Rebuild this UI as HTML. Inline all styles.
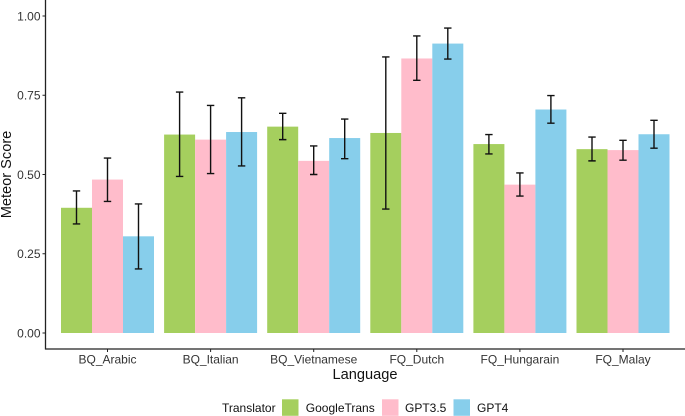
<!DOCTYPE html>
<html>
<head>
<meta charset="utf-8">
<style>
html,body{margin:0;padding:0;background:#fff;width:685px;height:416px;overflow:hidden}
svg{display:block}
text{font-family:"Liberation Sans",Arial,sans-serif}
</style>
</head>
<body>
<svg id="chart" xmlns="http://www.w3.org/2000/svg" width="685" height="416" viewBox="0 0 685 416"></svg>
<script>
const categories = ["BQ_Arabic","BQ_Italian","BQ_Vietnamese","FQ_Dutch","FQ_Hungarain","FQ_Malay"];
const seriesNames = ["GoogleTrans","GPT3.5","GPT4"];
const googleTrans = [0.395,0.626,0.651,0.631,0.596,0.580];
const googleTransLow = [0.344,0.494,0.610,0.391,0.565,0.543];
const googleTransHigh = [0.448,0.760,0.693,0.871,0.626,0.618];
const gpt35 = [0.484,0.610,0.543,0.866,0.468,0.577];
const gpt35Low = [0.415,0.503,0.500,0.797,0.432,0.545];
const gpt35High = [0.552,0.718,0.590,0.937,0.505,0.608];
const gpt4 = [0.305,0.634,0.615,0.913,0.705,0.627];
const gpt4Low = [0.202,0.527,0.550,0.864,0.662,0.583];
const gpt4High = [0.407,0.742,0.675,0.962,0.749,0.671];
const yTicks = [0,0.25,0.5,0.75,1];
const yTickLabels = ["0.00","0.25","0.50","0.75","1.00"];

const svg = document.getElementById('chart');
const NS = 'http://www.w3.org/2000/svg';
const colors = ['#a5cf5e','#ffbccb','#87ceeb'];
const seriesSlugs = ['googletrans','gpt35','gpt4'];
const values = [googleTrans,gpt35,gpt4];
const lows = [googleTransLow,gpt35Low,gpt4Low];
const highs = [googleTransHigh,gpt35High,gpt4High];

const yScale = v => 333 - 317 * v;
const xBand = i => 107.5 + 103.1 * i;
const barW = 31;
const barX = (i, s) => xBand(i) + (s - 1.5) * barW;

function mk(tag, attrs, text) {
  const el = document.createElementNS(NS, tag);
  for (const k in attrs) el.setAttribute(k, attrs[k]);
  if (text !== undefined) el.textContent = text;
  svg.appendChild(el);
  return el;
}

// bars
categories.forEach((c, i) => {
  values.forEach((vals, s) => {
    const el = mk('rect', {x: barX(i, s), y: yScale(vals[i]), width: barW, height: yScale(0) - yScale(vals[i]), fill: colors[s]});
    
    
  });
});

// error bars
categories.forEach((c, i) => {
  values.forEach((vals, s) => {
    const cx = barX(i, s) + barW / 2;
    const hi = yScale(highs[s][i]);
    const lo = yScale(lows[s][i]);
    const g = mk('path', {
      d: `M${cx - 3.7} ${hi}H${cx + 3.7}M${cx} ${hi}V${lo}M${cx - 3.7} ${lo}H${cx + 3.7}`,
      fill: 'none', stroke: '#111', 'stroke-width': 1.4
    });
    
    
  });
});

// y axis
yTicks.forEach((t, k) => {
  const y = yScale(t);
  const tick = mk('line', {x1: 42.5, x2: 45.5, y1: y, y2: y, stroke: '#222', 'stroke-width': 1});
  
  
  const lab = mk('text', {x: 40.5, y: y + 4.3, 'text-anchor': 'end', 'font-size': 12, fill: '#333'}, yTickLabels[k]);
  
  
});

// x axis
categories.forEach((c, i) => {
  const x = xBand(i);
  const tick = mk('line', {x1: x, x2: x, y1: 349, y2: 352, stroke: '#222', 'stroke-width': 1});
  
  
  const lab = mk('text', {x: x, y: 363.7, 'text-anchor': 'middle', 'font-size': 12, fill: '#333'}, c);
  
  
});

const yAxis = mk('line', {x1: 45.5, x2: 45.5, y1: 0, y2: 349.5, stroke: '#222', 'stroke-width': 1.3});


const xAxis = mk('line', {x1: 45, x2: 685, y1: 349, y2: 349, stroke: '#222', 'stroke-width': 1.3});



// axis titles
const xTitle = mk('text', {x: 365, y: 379, 'text-anchor': 'middle', 'font-size': 14.6, fill: '#111'}, 'Language');


const yTitle = mk('text', {x: 0, y: 0, transform: 'translate(10.8,174.5) rotate(-90)', 'text-anchor': 'middle', 'font-size': 14.6, fill: '#111'}, 'Meteor Score');



// legend
const legTitle = mk('text', {x: 222, y: 412, 'font-size': 12, fill: '#111'}, 'Translator');


const legendSwatchX = [282, 382, 453.5];
const legendLabelX = [305.8, 405, 477];
seriesNames.forEach((n, s) => {
  const sw = mk('rect', {x: legendSwatchX[s], y: 399.3, width: 16.5, height: 16.5, fill: colors[s]});
  
  
  const t = mk('text', {x: legendLabelX[s], y: 412, 'font-size': 12, fill: '#111'}, n);
  
  
});
</script>
</body>
</html>
